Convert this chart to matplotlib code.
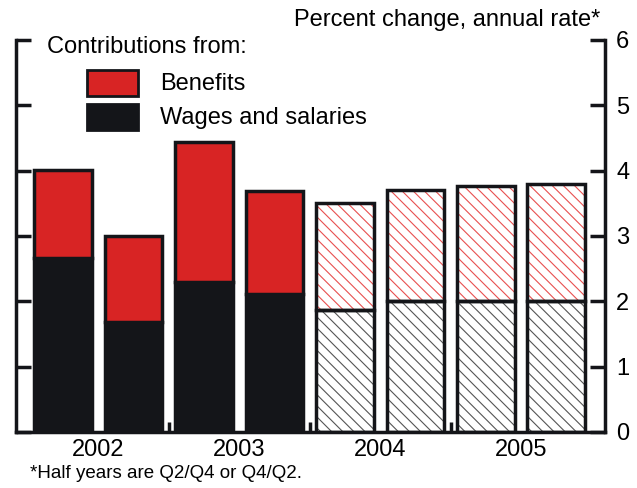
import matplotlib
matplotlib.use('Agg')
import matplotlib.pyplot as plt
import matplotlib.patches as patches
import numpy as np

plt.rcParams['font.family'] = ['Liberation Sans', 'DejaVu Sans']
plt.rcParams['hatch.linewidth'] = 0.8

# half-year data, 2002 H1 ... 2005 H2
wages = [2.67, 1.68, 2.29, 2.11, 1.87, 2.01, 2.01, 2.01]
totals = [4.01, 3.00, 4.44, 3.69, 3.50, 3.71, 3.76, 3.79]
benefits = [t - w for t, w in zip(totals, wages)]
projected = [False, False, False, False, True, True, True, True]
years = ['2002', '2003', '2004', '2005']

RED = '#d82424'
BLACK = '#141519'

fig = plt.figure(figsize=(6.37, 4.88), dpi=100)
ax = fig.add_axes([16 / 637, 56 / 488, 589 / 637, 392 / 488])

x = np.arange(len(wages))
w = 0.82
for i in x:
    if projected[i]:
        ax.bar(i, wages[i], w, color='white', edgecolor='#555555', hatch='\\\\\\', linewidth=0)
        ax.bar(i, benefits[i], w, bottom=wages[i], color='white', edgecolor='#e85050',
               hatch='\\\\\\', linewidth=0)
        ax.bar(i, wages[i], w, fill=False, edgecolor=BLACK, linewidth=2.5)
        ax.bar(i, benefits[i], w, bottom=wages[i], fill=False, edgecolor=BLACK, linewidth=2.5)
    else:
        ax.bar(i, wages[i], w, color=BLACK, edgecolor=BLACK, linewidth=2.5)
        ax.bar(i, benefits[i], w, bottom=wages[i], color=RED, edgecolor=BLACK, linewidth=2.5)

ax.set_xlim(-0.667, 7.69)
ax.set_ylim(0, 6)

for s in ['left', 'right', 'bottom']:
    ax.spines[s].set_linewidth(2.5)
    ax.spines[s].set_color(BLACK)
ax.spines['top'].set_visible(False)

ax.set_yticks(range(0, 7))
ax.tick_params(axis='y', which='both', direction='in', length=11, width=2.5, color=BLACK,
               left=True, right=True, labelleft=False, labelright=True, labelsize=17, pad=8)

ax.set_xticks([1.5, 3.5, 5.5])
ax.set_xticklabels([])
ax.set_xticks([0.5, 2.5, 4.5, 6.5], minor=True)
ax.set_xticklabels(years, minor=True)
ax.tick_params(axis='x', which='major', direction='in', length=7, width=2.5, color=BLACK)
ax.tick_params(axis='x', which='minor', length=0, labelsize=17, pad=5)

# legend drawn by hand
fig.text(47 / 637, 1 - 47 / 488, 'Contributions from:', fontsize=17, va='center', ha='left')
fig.patches.append(patches.Rectangle((87 / 637, 1 - 96 / 488), 51 / 637, 26 / 488,
                                     transform=fig.transFigure, facecolor=RED,
                                     edgecolor=BLACK, linewidth=2))
fig.patches.append(patches.Rectangle((87 / 637, 1 - 130 / 488), 51 / 637, 26 / 488,
                                     transform=fig.transFigure, facecolor=BLACK,
                                     edgecolor=BLACK, linewidth=2))
fig.text(160 / 637, 1 - 84 / 488, 'Benefits', fontsize=17, va='center', ha='left')
fig.text(160 / 637, 1 - 118 / 488, 'Wages and salaries', fontsize=17, va='center', ha='left')

fig.text(600 / 637, 1 - 20 / 488, 'Percent change, annual rate*', fontsize=17,
         va='center', ha='right')
fig.text(30 / 637, 1 - 473 / 488, '*Half years are Q2/Q4 or Q4/Q2.', fontsize=13.5,
         va='center', ha='left')

fig.savefig('out.png', dpi=100)
